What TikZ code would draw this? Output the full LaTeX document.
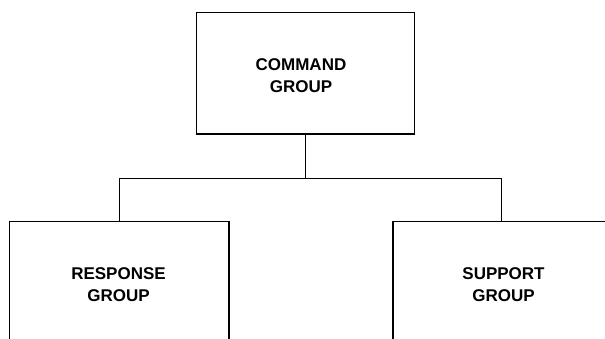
\documentclass[tikz,border=0pt]{standalone}
\usepackage{fontspec}
\setmainfont{Liberation Sans}
\begin{document}
\begin{tikzpicture}[x=1pt,y=-1pt,
  box/.style={draw=black,line width=1.4pt,rectangle,inner sep=0pt,outer sep=0pt},
  lbl/.style={align=center,font=\bfseries\fontsize{17}{21.5}\selectfont,inner sep=0pt},
  conn/.style={draw=black,line width=1.4pt}]
\useasboundingbox (0,0) rectangle (605,338);
\fill[white] (0,0) rectangle (605,338);
\node[box,minimum width=218.3pt,minimum height=121.7pt] (cmdbox) at (305.6,73.15) {};
\node[lbl] (cmd) at (301,75.5) {COMMAND\\GROUP};
\node[box,minimum width=219.5pt,minimum height=240pt,anchor=north west] (respbox) at (9.5,221.5) {};
\node[lbl] (resp) at (118.5,284.5) {RESPONSE\\GROUP};
\node[box,minimum width=217.4pt,minimum height=240pt,anchor=north west] (supbox) at (393,221.5) {};
\node[lbl] (sup) at (503.5,284.5) {SUPPORT\\GROUP};
\draw[conn] (cmdbox.south) -- ++(0,44.3) coordinate (bus);
\draw[conn] (respbox.north) |- (bus) -| (supbox.north);
\end{tikzpicture}
\end{document}
